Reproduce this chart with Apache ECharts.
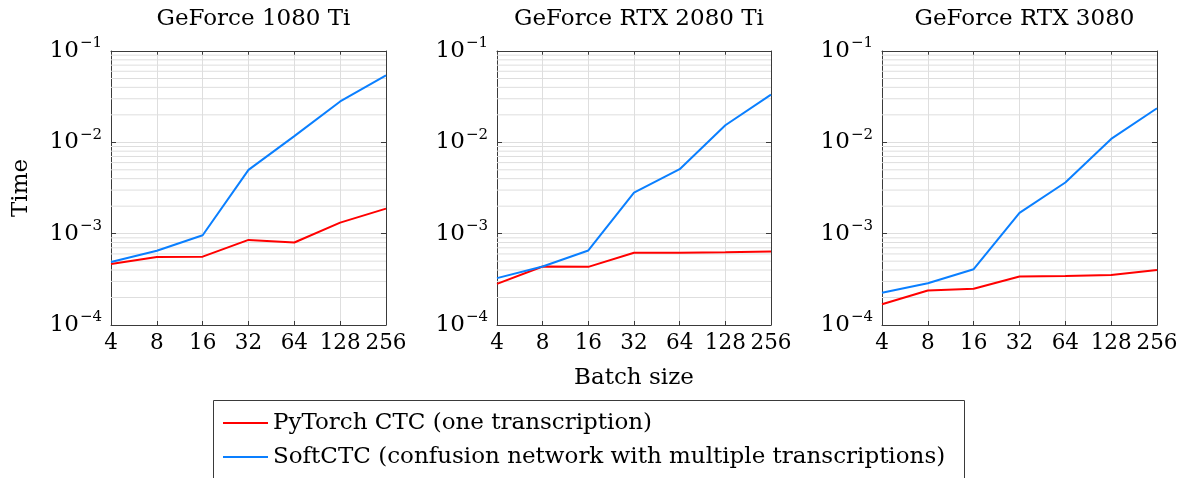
<!DOCTYPE html>
<html>
<head>
<meta charset="utf-8">
<script src="https://cdn.jsdelivr.net/npm/echarts@6/dist/echarts.min.js"></script>
<style>
html,body{margin:0;padding:0;background:#fff;}
#main{width:1188px;height:478px;}
</style>
</head>
<body>
<div id="main"></div>
<script>
// ---- data ----
var batchSizes = ['4', '8', '16', '32', '64', '128', '256'];
var gpuTitles = ['GeForce 1080 Ti', 'GeForce RTX 2080 Ti', 'GeForce RTX 3080'];
var pytorch1080 = [4.65e-4, 5.55e-4, 5.6e-4, 8.55e-4, 8.0e-4, 1.32e-3, 1.88e-3];
var softctc1080 = [4.9e-4, 6.5e-4, 9.6e-4, 5.0e-3, 1.17e-2, 2.8e-2, 5.4e-2];
var pytorch2080 = [2.82e-4, 4.37e-4, 4.33e-4, 6.17e-4, 6.2e-4, 6.25e-4, 6.37e-4];
var softctc2080 = [3.26e-4, 4.37e-4, 6.55e-4, 2.82e-3, 5.08e-3, 1.54e-2, 3.33e-2];
var pytorch3080 = [1.69e-4, 2.39e-4, 2.49e-4, 3.4e-4, 3.43e-4, 3.52e-4, 3.99e-4];
var softctc3080 = [2.25e-4, 2.87e-4, 4.08e-4, 1.69e-3, 3.63e-3, 1.09e-2, 2.36e-2];
var yMin = 1e-4, yMax = 1e-1;
var decades = [1e-4, 1e-3, 1e-2];
var minorFactors = [2, 3, 4, 5, 6, 7, 8, 9];
var seriesNames = ['PyTorch CTC (one transcription)', 'SoftCTC (confusion network with multiple transcriptions)'];
var seriesColors = ['#ff0000', '#0a7fff'];
var xAxisName = 'Batch size';
var yAxisName = 'Time';

// ---- layout ----
var FONT = 'DejaVu Serif';
var FS = 23;
var FS_X = 21.5;
var grids = [
  { left: 111, top: 51, width: 275, height: 274 },
  { left: 497, top: 51, width: 274, height: 274 },
  { left: 882, top: 51, width: 275, height: 274 }
];
var dataSets = [[pytorch1080, softctc1080], [pytorch2080, softctc2080], [pytorch3080, softctc3080]];
var frameColor = '#3a3a3a';
var gridColor = '#dedede';

var minorGridValues = [];
decades.forEach(function (d) { minorFactors.forEach(function (k) { minorGridValues.push(+(d * k).toPrecision(3)); }); });

var xAxes = [], yAxes = [], series = [], titles = [];
grids.forEach(function (g, i) {
  titles.push({
    text: gpuTitles[i], left: g.left + g.width / 2, top: 3, textAlign: 'center',
    textStyle: { fontFamily: FONT, fontSize: FS, fontWeight: 'normal', color: '#000' }
  });
  xAxes.push({
    gridIndex: i, type: 'category', data: batchSizes, boundaryGap: false, position: 'bottom',
    name: i === 1 ? xAxisName : '', nameLocation: 'middle', nameGap: 42,
    nameTextStyle: { fontFamily: FONT, fontSize: FS, color: '#000' },
    axisLine: { show: true, lineStyle: { color: frameColor, width: 1 } },
    axisTick: { show: true, inside: true, length: 4, interval: 0, alignWithLabel: true, lineStyle: { color: frameColor } },
    axisLabel: { interval: 0, margin: 7, fontFamily: FONT, fontSize: FS_X, color: '#000', hideOverlap: false },
    splitLine: { show: true, interval: 0, lineStyle: { color: gridColor, width: 1 } }
  });
  xAxes.push({
    gridIndex: i, type: 'category', data: batchSizes, boundaryGap: false, position: 'top',
    axisLine: { show: true, lineStyle: { color: frameColor, width: 1 } },
    axisTick: { show: true, inside: true, length: 4, interval: 0, lineStyle: { color: frameColor } },
    axisLabel: { show: false }, splitLine: { show: false }
  });
  yAxes.push({
    gridIndex: i, type: 'log', logBase: 10, min: yMin, max: yMax, splitNumber: 3, position: 'left',
    name: i === 0 ? yAxisName : '', nameLocation: 'middle', nameGap: 78, nameRotate: 90,
    nameTextStyle: { fontFamily: FONT, fontSize: FS, color: '#000' },
    axisLine: { show: true, lineStyle: { color: frameColor, width: 1 } },
    axisTick: { show: true, inside: true, length: 5, lineStyle: { color: frameColor } },
    axisLabel: {
      margin: 9, fontFamily: FONT, color: '#000',
      formatter: function (v) { return '{b|10}{s|\u2212' + (-Math.round(Math.log10(v))) + '}'; },
      rich: {
        b: { fontFamily: FONT, fontSize: FS, color: '#000' },
        s: { fontFamily: FONT, fontSize: 15, color: '#000', padding: [0, 0, 15, 1] }
      }
    },
    splitLine: { show: true, lineStyle: { color: gridColor, width: 1 } }
  });
  yAxes.push({
    gridIndex: i, type: 'log', logBase: 10, min: yMin, max: yMax, splitNumber: 3, position: 'right',
    axisLine: { show: true, lineStyle: { color: frameColor, width: 1 } },
    axisTick: { show: true, inside: true, length: 5, lineStyle: { color: frameColor } },
    axisLabel: { show: false }, splitLine: { show: false }
  });
  // minor grid lines (horizontal, constant-value helper lines through the log scale)
  minorGridValues.forEach(function (v) {
    series.push({
      type: 'line', xAxisIndex: i * 2, yAxisIndex: i * 2, silent: true, z: 1,
      data: batchSizes.map(function () { return v; }), symbol: 'none',
      lineStyle: { color: gridColor, width: 1 }, emphasis: { disabled: true },
      tooltip: { show: false }, animation: false
    });
  });
  dataSets[i].forEach(function (vals, j) {
    series.push({
      type: 'line', name: seriesNames[j], xAxisIndex: i * 2, yAxisIndex: i * 2,
      data: vals, symbol: 'none', z: 3,
      lineStyle: { color: seriesColors[j], width: 2 }, itemStyle: { color: seriesColors[j] },
      emphasis: { disabled: true }, animation: false
    });
  });
});

var chart = echarts.init(document.getElementById('main'), null, { renderer: 'canvas' });
chart.setOption({
  animation: false,
  backgroundColor: '#fff',
  title: titles,
  grid: grids,
  xAxis: xAxes,
  yAxis: yAxes,
  series: series,
  legend: {
    data: seriesNames.map(function (n) { return { name: n, icon: 'rect' }; }),
    orient: 'vertical', left: 218, top: 403, padding: 5,
    itemWidth: 45, itemHeight: 2, itemGap: 4,
    textStyle: { fontFamily: FONT, fontSize: FS, color: '#000', lineHeight: 30 },
    selectedMode: false
  },
  graphic: [{
    type: 'rect', shape: { x: 213.5, y: 400.5, width: 751, height: 100 },
    style: { fill: 'none', stroke: frameColor, lineWidth: 1 }, silent: true
  }]
});
</script>
</body>
</html>
